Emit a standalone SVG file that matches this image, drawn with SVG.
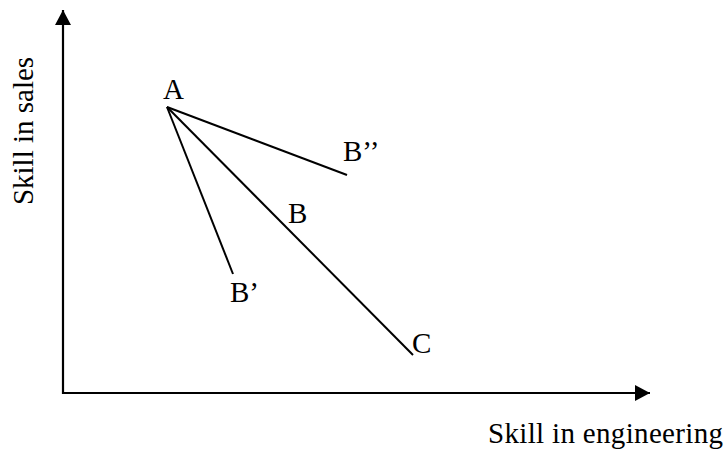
<svg xmlns="http://www.w3.org/2000/svg" width="724" height="450" viewBox="0 0 724 450">
<style>
.ax{stroke:#000;stroke-width:2.2;fill:none}
.ln{stroke:#000;stroke-width:2;fill:none}
.t{font-family:'Liberation Serif','DejaVu Serif',serif;font-size:29px;fill:#000}
</style>
<defs>
<marker id="ah" viewBox="0 0 15 16" refX="15" refY="8" markerWidth="15" markerHeight="16" markerUnits="userSpaceOnUse" orient="auto">
<path d="M0,0 L15,8 L0,16 Z" fill="#000"/>
</marker>
</defs>
<g id="connectors">
<line class="ax" x1="63" y1="394" x2="63" y2="10" marker-end="url(#ah)"/>
<line class="ax" x1="62" y1="393" x2="650" y2="393" marker-end="url(#ah)"/>
<line class="ln" x1="167" y1="107" x2="347" y2="175"/>
<line class="ln" x1="167" y1="107" x2="233" y2="274"/>
<line class="ln" x1="167" y1="107" x2="413" y2="355"/>
</g>
<g id="labels">
<text class="t" x="163" y="99">A</text>
<text class="t" x="343" y="161">B’’</text>
<text class="t" x="288" y="223">B</text>
<text class="t" x="230" y="302">B’</text>
<text class="t" x="412" y="353">C</text>
<text class="t" x="488" y="443" textLength="235">Skill in engineering</text>
<text class="t" transform="translate(33,131) rotate(-90)" text-anchor="middle">Skill in sales</text>
</g>
</svg>
